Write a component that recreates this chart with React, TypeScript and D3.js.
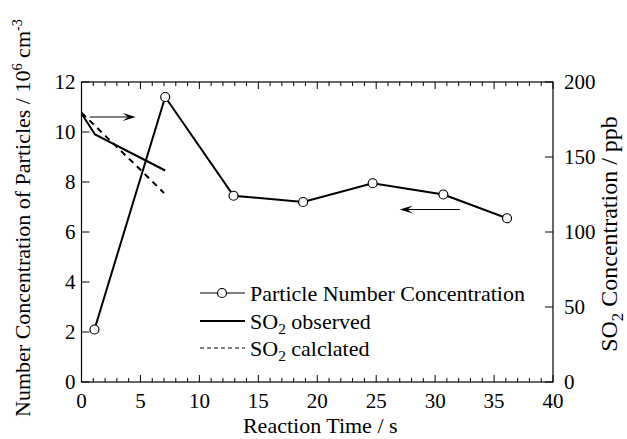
import React from "react";
import { scaleLinear, line, range } from "d3";

// Particle number concentration (10^6 cm^-3) vs reaction time (s)
const particleTime = [1.1, 7.1, 12.9, 18.8, 24.7, 30.7, 36.1];
const particleConc = [2.1, 11.4, 7.45, 7.2, 7.95, 7.5, 6.55];

// SO2 observed (ppb)
const so2ObsTime = [0, 1.15, 7.1];
const so2Obs = [179, 165, 141];

// SO2 calculated (ppb)
const so2CalcTime = [0, 2.5, 5, 7.0];
const so2Calc = [179.5, 160.5, 141.5, 126];

const xTicks = [0, 5, 10, 15, 20, 25, 30, 35, 40];
const yLeftTicks = [0, 2, 4, 6, 8, 10, 12];
const yRightTicks = [0, 50, 100, 150, 200];

const legendLabels = ["Particle Number Concentration", "observed", "calclated"];

const font = "Liberation Serif, Tinos, DejaVu Serif, Noto Serif, Times New Roman, serif";

function Arrow({ x1, x2, y }: { x1: number; x2: number; y: number }) {
  const dir = x2 > x1 ? 1 : -1;
  const hl = 13;
  const hw = 4;
  return (
    <g>
      <line x1={x1} y1={y} x2={x2 - dir * hl * 0.6} y2={y} stroke="#000" strokeWidth={1.2} />
      <path
        d={`M${x2},${y} L${x2 - dir * hl},${y - hw} L${x2 - dir * hl * 0.6},${y} L${x2 - dir * hl},${y + hw} Z`}
        fill="#000"
      />
    </g>
  );
}

function So2Label({ text, shift }: { text: string; shift: number }) {
  return (
    <>
      SO
      <tspan dy={shift} fontSize="0.7em">2</tspan>
      <tspan dy={-shift}>{text}</tspan>
    </>
  );
}

export default function App() {
  const left = 81.5;
  const right = 553;
  const top = 82;
  const bottom = 382;

  const x = scaleLinear().domain([0, 40]).range([left, right]);
  const yL = scaleLinear().domain([0, 12]).range([bottom, top]);
  const yR = scaleLinear().domain([0, 200]).range([bottom, top]);

  const particlePts = particleTime.map((t, i) => [x(t), yL(particleConc[i])] as [number, number]);
  const obsPts = so2ObsTime.map((t, i) => [x(t), yR(so2Obs[i])] as [number, number]);
  const calcPts = so2CalcTime.map((t, i) => [x(t), yR(so2Calc[i])] as [number, number]);
  const path = line();

  const minorX = range(0, 41, 1);

  const legX = 200;
  const legY = [293, 321, 348];
  const fs = 21;

  return (
    <div style={{ position: "absolute", left: 0, top: 0 }}>
      <svg width={627} height={439} style={{ display: "block", background: "#fff" }}>
        <g fontFamily={font} style={{ fontFamily: font }}>
          {/* frame */}
          <rect x={left} y={top} width={right - left} height={bottom - top} fill="none" stroke="#000" strokeWidth={1.2} />

          {/* x ticks bottom & top */}
          {minorX.map((t) => {
            const len = t % 5 === 0 ? 7 : 4;
            return (
              <g key={"xt" + t}>
                <line x1={x(t)} x2={x(t)} y1={bottom} y2={bottom - len} stroke="#000" strokeWidth={1} />
                <line x1={x(t)} x2={x(t)} y1={top} y2={top + len} stroke="#000" strokeWidth={1} />
              </g>
            );
          })}
          {xTicks.map((t) => (
            <text key={"xl" + t} x={x(t)} y={408} textAnchor="middle" fontSize={fs}>
              {t}
            </text>
          ))}

          {/* left axis */}
          {yLeftTicks.map((t) => (
            <g key={"yl" + t}>
              <line x1={left} x2={left + 8} y1={yL(t)} y2={yL(t)} stroke="#000" strokeWidth={1} />
              <text x={left - 6} y={yL(t)} dy="0.35em" textAnchor="end" fontSize={fs}>
                {t}
              </text>
            </g>
          ))}

          {/* right axis */}
          {yRightTicks.map((t) => (
            <g key={"yr" + t}>
              <line x1={right} x2={right - 8} y1={yR(t)} y2={yR(t)} stroke="#000" strokeWidth={1} />
              <text x={right + 11} y={yR(t)} dy="0.35em" textAnchor="start" fontSize={fs}>
                {t}
              </text>
            </g>
          ))}

          {/* axis titles */}
          <text x={(left + right) / 2 + 3} y={433} textAnchor="middle" fontSize={22}>
            Reaction Time / s
          </text>
          <text transform={`translate(30, 218) rotate(-90)`} textAnchor="middle" fontSize={22}>
            Number Concentration of Particles / 10
            <tspan dy={-8} fontSize="0.65em">6</tspan>
            <tspan dy={8}> cm</tspan>
            <tspan dy={-8} fontSize="0.65em">-3</tspan>
          </text>
          <text transform={`translate(617, 234) rotate(-90)`} textAnchor="middle" fontSize={24}>
            <So2Label text=" Concentration / ppb" shift={6} />
          </text>

          {/* data */}
          <path d={path(calcPts) || ""} fill="none" stroke="#000" strokeWidth={2} strokeDasharray="6 5" />
          <path d={path(obsPts) || ""} fill="none" stroke="#000" strokeWidth={2} />
          <path d={path(particlePts) || ""} fill="none" stroke="#000" strokeWidth={2} />
          {particlePts.map(([px, py], i) => (
            <circle key={"c" + i} cx={px} cy={py} r={4.5} fill="#fff" stroke="#000" strokeWidth={1.2} />
          ))}

          {/* arrows */}
          <Arrow x1={x(0.7)} x2={x(4.6)} y={yL(10.6)} />
          <Arrow x1={x(32.1)} x2={x(27.0)} y={yL(6.9)} />

          {/* legend */}
          <line x1={legX} x2={legX + 45} y1={legY[0]} y2={legY[0]} stroke="#000" strokeWidth={1} />
          <circle cx={legX + 22} cy={legY[0]} r={4.5} fill="#fff" stroke="#000" strokeWidth={1.2} />
          <line x1={legX} x2={legX + 45} y1={legY[1]} y2={legY[1]} stroke="#000" strokeWidth={2} />
          <line x1={legX} x2={legX + 45} y1={legY[2]} y2={legY[2]} stroke="#000" strokeWidth={1.2} strokeDasharray="4 3" />
          <text x={legX + 50} y={legY[0]} dy="0.35em" fontSize={22}>
            {legendLabels[0]}
          </text>
          <text x={legX + 50} y={legY[1]} dy="0.35em" fontSize={22}>
            <So2Label text={" " + legendLabels[1]} shift={5} />
          </text>
          <text x={legX + 50} y={legY[2]} dy="0.35em" fontSize={22}>
            <So2Label text={" " + legendLabels[2]} shift={5} />
          </text>
        </g>
      </svg>
    </div>
  );
}
